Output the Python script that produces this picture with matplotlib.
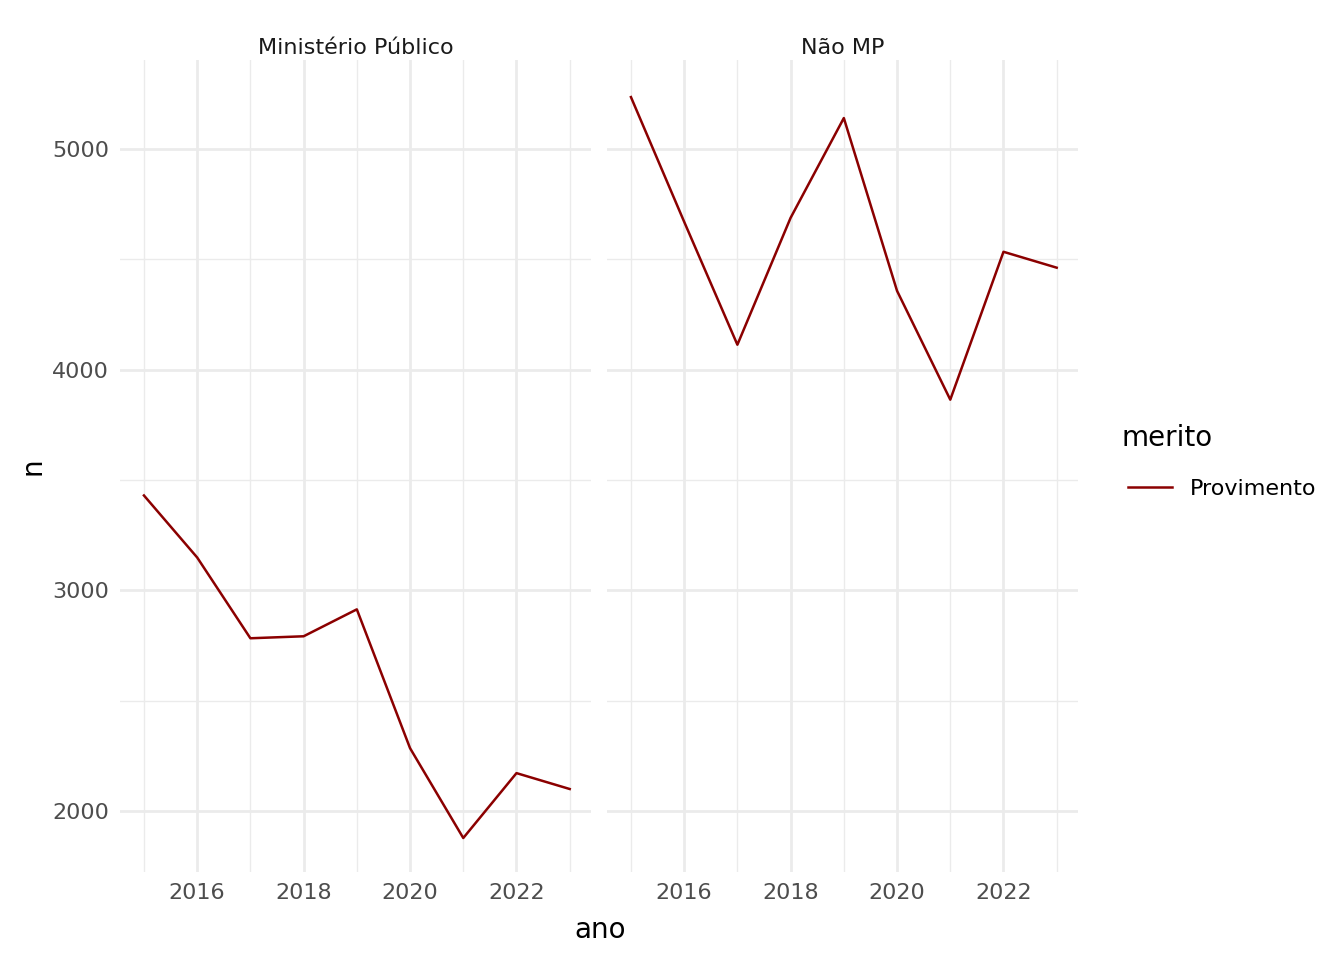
import matplotlib
matplotlib.use("Agg")
import matplotlib.pyplot as plt
from matplotlib.lines import Line2D

anos = [2015, 2016, 2017, 2018, 2019, 2020, 2021, 2022, 2023]
mp = [3430, 3149, 2783, 2792, 2914, 2285, 1878, 2172, 2100]
nao_mp = [5235, 4670, 4113, 4688, 5140, 4357, 3864, 4534, 4462]
paineis = ["Ministério Público", "Não MP"]
cor = "#8B0000"

fig = plt.figure(figsize=(13.44, 9.6), dpi=100)
lefts = [120/1344, 607/1344]
axes = []
for i, (titulo, vals) in enumerate(zip(paineis, [mp, nao_mp])):
    ax = fig.add_axes([lefts[i], 88/960, 471/1344, 812/960])
    ax.plot(anos, vals, color=cor, lw=1.8)
    ax.set_xlim(2014.55, 2023.4)
    ax.set_ylim(1724, 5403)
    ax.set_xticks([2016, 2018, 2020, 2022])
    ax.set_xticks([2015, 2017, 2019, 2021, 2023], minor=True)
    ax.set_yticks([2000, 3000, 4000, 5000])
    ax.set_yticks([2500, 3500, 4500], minor=True)
    ax.grid(which="major", color="#EBEBEB", lw=2)
    ax.grid(which="minor", color="#EBEBEB", lw=1)
    for s in ax.spines.values():
        s.set_visible(False)
    ax.tick_params(which="both", length=0, labelsize=16, labelcolor="#4D4D4D", pad=8)
    ax.set_title(titulo, fontsize=16, color="#1A1A1A", pad=4)
    if i == 1:
        ax.set_yticklabels([])
    axes.append(ax)

axes[0].set_ylabel("n", fontsize=20)
fig.text(600/1344, 1 - 930/960, "ano", ha="center", va="center", fontsize=20)

fig.text(1122/1344, 1 - 438/960, "merito", fontsize=20, va="center")
fig.legend(handles=[Line2D([], [], color=cor, lw=1.8)], labels=["Provimento"],
           loc="center left", bbox_to_anchor=(1108/1344, 1 - 489/960), frameon=False,
           fontsize=16, handlelength=2)
fig.savefig("out.png", dpi=100)
